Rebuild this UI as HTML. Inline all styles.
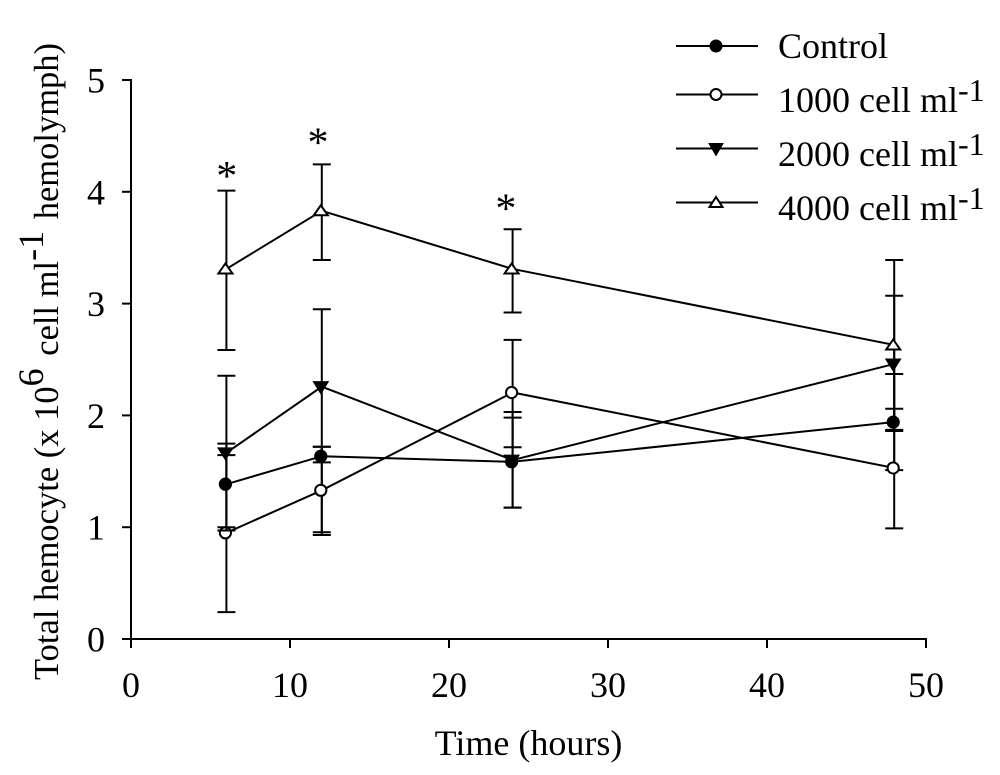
<!DOCTYPE html>
<html lang="en">
<head>
<meta charset="utf-8">
<title>Total hemocyte over time</title>
<style>
html,body{margin:0;padding:0;background:#fff;width:1000px;height:775px;overflow:hidden}
svg{display:block;font-family:"Liberation Serif",serif;fill:#000}
</style>
</head>
<body>
<svg id="chart" xmlns="http://www.w3.org/2000/svg" width="1000" height="775" viewBox="0 0 1000 775">
  <text transform="translate(58,680) rotate(-90)" font-size="34.5">Total hemocyte (x 10<tspan dy="-15" font-size="36">6</tspan><tspan dy="15" dx="4"> cell ml</tspan><tspan dy="-15" font-size="36">-1</tspan><tspan dy="15" dx="3"> hemolymph)</tspan></text>
  <text x="528.5" y="755" font-size="36" text-anchor="middle">Time (hours)</text>
  <g id="plot"></g>
  <g id="legend"></g>
</svg>
<script>
const times = [6, 12, 24, 48];
const xTicks = [0, 10, 20, 30, 40, 50];
const yTicks = [0, 1, 2, 3, 4, 5];
const seriesNames = ['control', '1000-cell', '2000-cell', '4000-cell'];
const legendLabels = ['Control', '1000 cell ml', '2000 cell ml', '4000 cell ml'];

const controlValues = [1.385, 1.635, 1.585, 1.94];
const controlHigh = [1.747, 1.72, 1.98, 2.37];
const controlLow = [1.0, 0.93, 1.175, 1.51];

const cell1000Values = [0.95, 1.33, 2.205, 1.53];
const cell1000High = [1.645, 1.72, 2.675, 2.06];
const cell1000Low = [0.24, 0.955, 1.715, 0.99];

const cell2000Values = [1.665, 2.257, 1.6, 2.46];
const cell2000High = [2.355, 2.95, 2.03, 3.07];
const cell2000Low = [0.97, 1.58, 1.175, 1.87];

const cell4000Values = [3.31, 3.83, 3.31, 2.63];
const cell4000High = [4.01, 4.245, 3.665, 3.39];
const cell4000Low = [2.585, 3.39, 2.92, 1.86];

const significantTimes = [6.02, 11.76, 23.58];
const significantLevels = [4.016, 4.317, 3.727];

const valueSets = [controlValues, cell1000Values, cell2000Values, cell4000Values];
const highSets = [controlHigh, cell1000High, cell2000High, cell4000High];
const lowSets = [controlLow, cell1000Low, cell2000Low, cell4000Low];

const NS = 'http://www.w3.org/2000/svg';
const plot = document.getElementById('plot');
const legend = document.getElementById('legend');
const xScale = v => 131 + v * 15.9;
const yScale = v => 639 - v * 111.8;

function make(parent, tag, attrs) {
  const el = document.createElementNS(NS, tag);
  for (const k in attrs) el.setAttribute(k, attrs[k]);
  parent.appendChild(el);
  return el;
}

function drawMarker(parent, type, cx, cy, r) {
  let m;
  if (type === 0 || type === 1) {
    m = make(parent, 'circle', {cx: cx, cy: cy, r: r, fill: type === 0 ? '#000' : '#fff', stroke: '#000', 'stroke-width': 2});
  } else if (type === 2) {
    m = make(parent, 'polygon', {points: [cx - r - 1, cy - 5, cx + r + 1, cy - 5, cx, cy + 7].join(','), fill: '#000', stroke: '#000', 'stroke-width': 1});
  } else {
    m = make(parent, 'polygon', {points: [cx - r - 0.5, cy + 4.5, cx + r + 0.5, cy + 4.5, cx, cy - 5.5].join(','), fill: '#fff', stroke: '#000', 'stroke-width': 2});
  }
  return m;
}

const yAxis = make(plot, 'line', {x1: xScale(0), x2: xScale(0), y1: yScale(5) - 1, y2: yScale(0) + 1, stroke: '#000', 'stroke-width': 2});


const xAxis = make(plot, 'line', {x1: xScale(0) - 1, x2: xScale(50) + 1, y1: yScale(0), y2: yScale(0), stroke: '#000', 'stroke-width': 2});



yTicks.forEach(t => {
  const tick = make(plot, 'line', {x1: xScale(0) - 9, x2: xScale(0), y1: yScale(t), y2: yScale(t), stroke: '#000', 'stroke-width': 2});
  
  
  const label = make(plot, 'text', {x: 96, y: yScale(t) + 12.5, 'font-size': 36, 'text-anchor': 'middle'});
  label.textContent = t;
  
  
});

xTicks.forEach(t => {
  const tick = make(plot, 'line', {x1: xScale(t), x2: xScale(t), y1: yScale(0), y2: yScale(0) + 9, stroke: '#000', 'stroke-width': 2});
  
  
  const label = make(plot, 'text', {x: xScale(t), y: 697, 'font-size': 36, 'text-anchor': 'middle'});
  label.textContent = t;
  
  
});

valueSets.forEach((values, s) => {
  const group = make(plot, 'g', {});
  
  

  times.forEach((t, i) => {
    const bar = make(group, 'path', {
      d: 'M' + (xScale(t) - 9) + ' ' + yScale(highSets[s][i]) + 'H' + (xScale(t) + 9) +
         'M' + xScale(t) + ' ' + yScale(highSets[s][i]) + 'V' + yScale(lowSets[s][i]) +
         'M' + (xScale(t) - 9) + ' ' + yScale(lowSets[s][i]) + 'H' + (xScale(t) + 9),
      fill: 'none', stroke: '#000', 'stroke-width': 2
    });
    
    
  });

  const line = make(group, 'polyline', {
    points: times.map((t, i) => xScale(t) + ',' + yScale(values[i])).join(' '),
    fill: 'none', stroke: '#000', 'stroke-width': 2
  });
  
  

  times.forEach((t, i) => {
    const marker = drawMarker(group, s, xScale(t) - 1, yScale(values[i]), s < 2 ? 5.6 : 6.5);
    
    
  });
});

significantTimes.forEach((t, i) => {
  const star = make(plot, 'text', {x: xScale(t), y: yScale(significantLevels[i]), 'font-size': 42, 'text-anchor': 'middle'});
  star.textContent = '*';
  
  
});

legendLabels.forEach((name, s) => {
  const baseline = 58 + s * 54;
  const rowY = baseline - (s === 0 ? 12 : 17.5);
  const row = make(legend, 'g', {});
  
  
  make(row, 'line', {x1: 676, x2: 758, y1: rowY, y2: rowY, stroke: '#000', 'stroke-width': 2});
  drawMarker(row, s, 716, rowY, s < 2 ? 5.5 : 6);
  const label = make(row, 'text', {x: 778, y: baseline, 'font-size': 36});
  label.textContent = name;
  
  
  if (s > 0) {
    const sup = make(label, 'tspan', {dy: -11, 'font-size': 32});
    sup.textContent = '-1';
    
    
  }
});
</script>
</body>
</html>
